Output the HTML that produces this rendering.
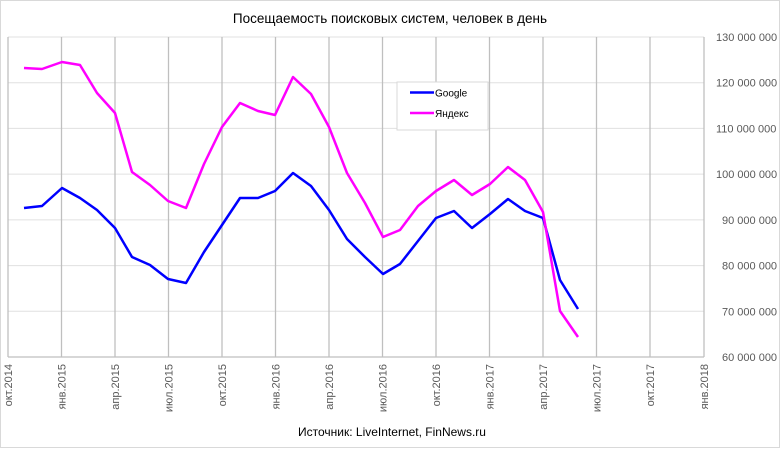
<!DOCTYPE html>
<html><head><meta charset="utf-8"><style>
body{margin:0;background:#fff;}
svg text{font-family:"Liberation Sans","DejaVu Sans",sans-serif;}
</style></head><body>
<svg width="780" height="448" viewBox="0 0 780 448" xmlns="http://www.w3.org/2000/svg">
<rect x="0.5" y="0.5" width="779" height="447" fill="#fff" stroke="#d9d9d9"/>
<text x="390" y="23" text-anchor="middle" font-size="13.5" fill="#000">Посещаемость поисковых систем, человек в день</text>
<g stroke="#e0e0e0" stroke-width="1">
<line x1="8" y1="37" x2="704" y2="37"/><line x1="8" y1="82.7" x2="704" y2="82.7"/><line x1="8" y1="128.4" x2="704" y2="128.4"/><line x1="8" y1="174.1" x2="704" y2="174.1"/><line x1="8" y1="219.9" x2="704" y2="219.9"/><line x1="8" y1="265.6" x2="704" y2="265.6"/><line x1="8" y1="311.3" x2="704" y2="311.3"/>
</g>
<g stroke="#bfbfbf" stroke-width="1.3">
<line x1="8" y1="37" x2="8" y2="357"/><line x1="61.5" y1="37" x2="61.5" y2="357"/><line x1="115" y1="37" x2="115" y2="357"/><line x1="168.5" y1="37" x2="168.5" y2="357"/><line x1="222" y1="37" x2="222" y2="357"/><line x1="275.5" y1="37" x2="275.5" y2="357"/><line x1="329" y1="37" x2="329" y2="357"/><line x1="382.5" y1="37" x2="382.5" y2="357"/><line x1="436" y1="37" x2="436" y2="357"/><line x1="489.5" y1="37" x2="489.5" y2="357"/><line x1="543" y1="37" x2="543" y2="357"/><line x1="596.5" y1="37" x2="596.5" y2="357"/><line x1="650" y1="37" x2="650" y2="357"/><line x1="704" y1="37" x2="704" y2="357"/>
<line x1="8" y1="357" x2="704" y2="357"/>
</g>
<g font-size="11" fill="#595959">
<text x="716" y="41">130 000 000</text><text x="716" y="86.7">120 000 000</text><text x="716" y="132.4">110 000 000</text><text x="716" y="178.1">100 000 000</text><text x="722" y="223.9">90 000 000</text><text x="722" y="269.6">80 000 000</text><text x="722" y="315.3">70 000 000</text><text x="722" y="361">60 000 000</text>
</g>
<g font-size="11" fill="#595959" text-anchor="end">
<text transform="translate(12,364) rotate(-90)">окт.2014</text>
<text transform="translate(65.5,364) rotate(-90)">янв.2015</text>
<text transform="translate(119,364) rotate(-90)">апр.2015</text>
<text transform="translate(172.5,364) rotate(-90)">июл.2015</text>
<text transform="translate(226,364) rotate(-90)">окт.2015</text>
<text transform="translate(279.5,364) rotate(-90)">янв.2016</text>
<text transform="translate(333,364) rotate(-90)">апр.2016</text>
<text transform="translate(386.5,364) rotate(-90)">июл.2016</text>
<text transform="translate(440,364) rotate(-90)">окт.2016</text>
<text transform="translate(493.5,364) rotate(-90)">янв.2017</text>
<text transform="translate(547,364) rotate(-90)">апр.2017</text>
<text transform="translate(600.5,364) rotate(-90)">июл.2017</text>
<text transform="translate(654,364) rotate(-90)">окт.2017</text>
<text transform="translate(708,364) rotate(-90)">янв.2018</text>
</g>
<polyline fill="none" stroke="#0000ff" stroke-width="2.5" stroke-linejoin="round" points="24,208 42,206 62,188 80,198 97,210 115,228 132,257 150,265 168,279 186,283 204,252 222,225 240,198 258,198 275,191 293,173 311,186 329,210 347,239 365,257 383,274 400,264 418,241 436,218 454,211 472,228 490,214 508,199 525,211 543,218 560,280 578,309"/>
<polyline fill="none" stroke="#ff00ff" stroke-width="2.5" stroke-linejoin="round" points="24,68 42,69 62,62 80,65 97,93 115,113 132,172 150,185 168,201 186,208 204,164 222,127 240,103 258,111 275,115 293,77 311,94 329,127 347,173 365,203 383,237 400,230 418,206 436,191 454,180 472,195 490,184 508,167 525,180 543,212 560,311 578,337"/>
<rect x="397" y="82" width="91" height="48" fill="#fff" stroke="#d9d9d9"/>
<line x1="410" y1="92.5" x2="434" y2="92.5" stroke="#0000ff" stroke-width="2.5"/>
<line x1="410" y1="113" x2="434" y2="113" stroke="#ff00ff" stroke-width="2.5"/>
<text x="435" y="96.5" font-size="10" fill="#000">Google</text>
<text x="435" y="117" font-size="10" fill="#000">Яндекс</text>
<text x="392" y="436" text-anchor="middle" font-size="12" fill="#000">Источник: LiveInternet, FinNews.ru</text>
</svg>
</body></html>
